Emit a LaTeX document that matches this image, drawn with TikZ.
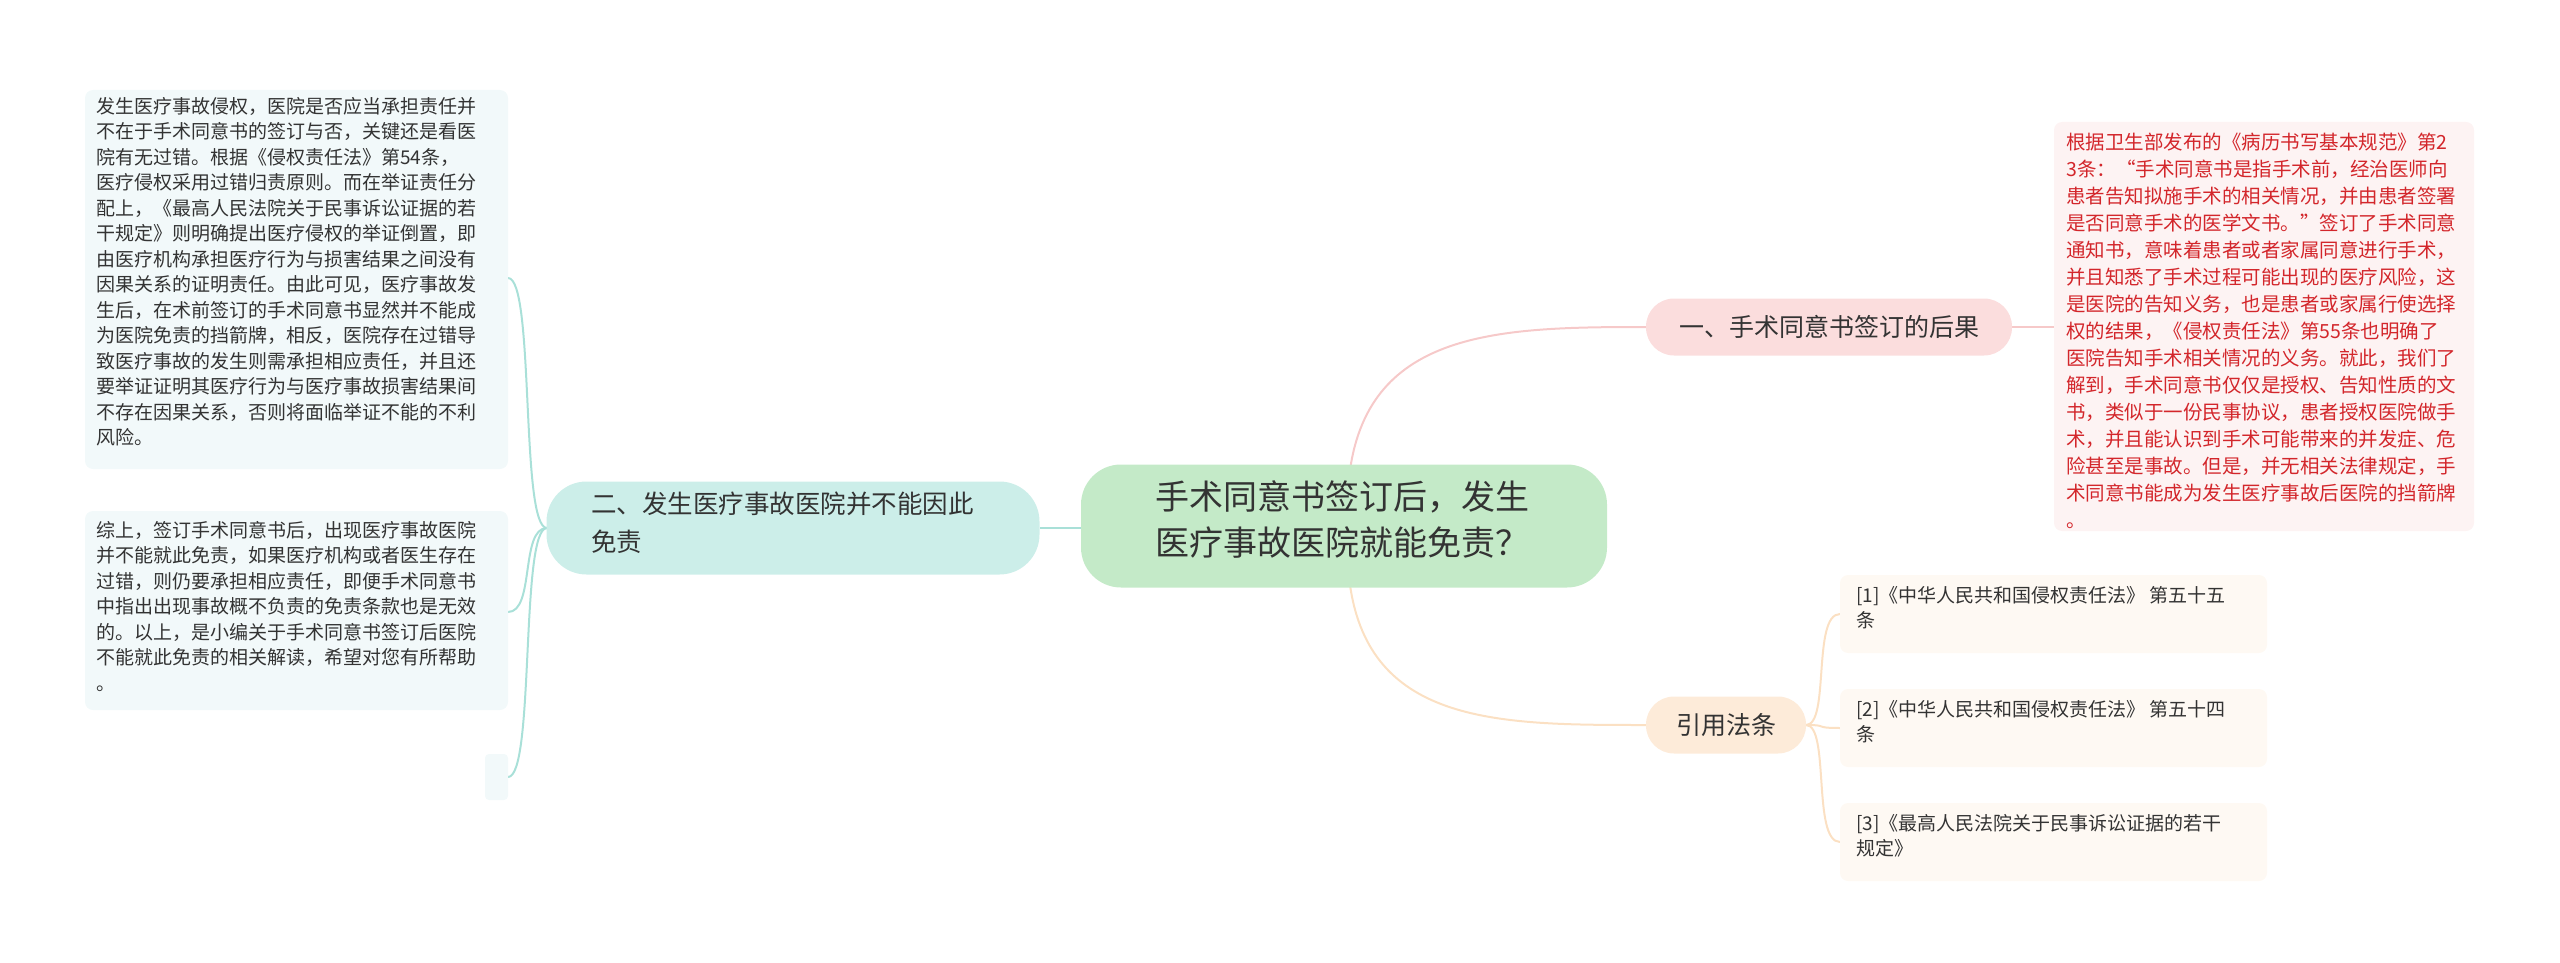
\documentclass[tikz,border=0pt]{standalone}
\usepackage{fontspec}
\setmainfont{Noto Sans CJK SC}
\begin{document}
\begin{tikzpicture}[x=1pt,y=-1pt,
 box/.style={rounded corners=8pt,inner sep=0pt,anchor=north west},
 txt/.style={align=left,anchor=north west,inner sep=0pt,font=\fontsize{19}{25.5}\selectfont},
]
\definecolor{cgreen}{HTML}{C4EAC8}
\definecolor{cpink}{HTML}{FBDDDD}
\definecolor{cpinkbox}{HTML}{FDF3F3}
\definecolor{cred}{HTML}{D3262B}
\definecolor{corange}{HTML}{FDEBD9}
\definecolor{crefbox}{HTML}{FEF9F3}
\definecolor{cteal}{HTML}{CCEEE9}
\definecolor{ctealbox}{HTML}{F2F9FA}
\definecolor{ctealline}{HTML}{A9E0D8}
\definecolor{cpinkline}{HTML}{F6C9C9}
\definecolor{corline}{HTML}{FBE0C3}
\definecolor{ctext}{HTML}{333333}
\useasboundingbox (0,0) rectangle (2560,963);
% connectors
\draw[cpinkline,line width=2pt] (1350,470) .. controls (1370,330) and (1500,327) .. (1646,327);
\draw[corline,line width=2pt] (1350,585) .. controls (1370,725) and (1500,725) .. (1646,725);
\draw[ctealline,line width=2pt] (1081,528) -- (1040,528);
\draw[cpinkline,line width=2pt] (2012,327) -- (2054,327);
\foreach \y in {614,728,842}{
 \draw[corline,line width=2pt] (1806,725) .. controls (1830,725) and (1812,\y) .. (1840,\y);}
\foreach \y in {278,612,777}{
 \draw[ctealline,line width=2pt] (547,528) .. controls (520,528) and (535,\y) .. (508,\y);}
% central
\node[fill=cgreen,rounded corners=40pt,minimum width=526pt,minimum height=123pt,inner sep=0pt] (c) at (1344,526) {};
\node[txt,font=\fontsize{34}{46}\selectfont,text=ctext] (ct) at (1155,480) {手术同意书签订后，发生\\医疗事故医院就能免责？};
% branch1
\node[fill=cpink,rounded corners=28pt,minimum width=366pt,minimum height=57pt] (b1) at (1829,327) {};
\node[font=\fontsize{25}{30}\selectfont,text=ctext] (b1t) at (1829,327) {一、手术同意书签订的后果};
\fill[cpinkbox,rounded corners=8pt] (2054,122) rectangle (2474,531);
\node[txt,text=cred,font=\fontsize{19.5}{27}\selectfont] (rt) at (2066,133) {根据卫生部发布的《病历书写基本规范》第2\\3条：“手术同意书是指手术前，经治医师向\\患者告知拟施手术的相关情况，并由患者签署\\是否同意手术的医学文书。”签订了手术同意\\通知书，意味着患者或者家属同意进行手术，\\并且知悉了手术过程可能出现的医疗风险，这\\是医院的告知义务，也是患者或家属行使选择\\权的结果，《侵权责任法》第55条也明确了\\医院告知手术相关情况的义务。就此，我们了\\解到，手术同意书仅仅是授权、告知性质的文\\书，类似于一份民事协议，患者授权医院做手\\术，并且能认识到手术可能带来的并发症、危\\险甚至是事故。但是，并无相关法律规定，手\\术同意书能成为发生医疗事故后医院的挡箭牌\\。};
% branch2
\node[fill=corange,rounded corners=28pt,minimum width=160pt,minimum height=57pt] (b2) at (1726,725) {};
\node[font=\fontsize{25}{30}\selectfont,text=ctext] (b2t) at (1726,725) {引用法条};
\foreach \y/\t in {575/{[1]《中华人民共和国侵权责任法》 第五十五\\条},689/{[2]《中华人民共和国侵权责任法》 第五十四\\条},803/{[3]《最高人民法院关于民事诉讼证据的若干\\规定》}}{
 \fill[crefbox,rounded corners=8pt] (1840,\y) rectangle (2267,\y+78);
 \node[txt,text=ctext] at (1856,\y+11) {\t};}
% left branch
\node[fill=cteal,rounded corners=40pt,minimum width=493pt,minimum height=93pt] (l) at (793,528) {};
\node[txt,font=\fontsize{25.5}{38}\selectfont,text=ctext] (lt) at (591,492) {二、发生医疗事故医院并不能因此\\免责};
\fill[ctealbox,rounded corners=8pt] (85,90) rectangle (508,469);
\node[txt,text=ctext] (l1) at (96,97) {发生医疗事故侵权，医院是否应当承担责任并\\不在于手术同意书的签订与否，关键还是看医\\院有无过错。根据《侵权责任法》第54条，\\医疗侵权采用过错归责原则。而在举证责任分\\配上，《最高人民法院关于民事诉讼证据的若\\干规定》则明确提出医疗侵权的举证倒置，即\\由医疗机构承担医疗行为与损害结果之间没有\\因果关系的证明责任。由此可见，医疗事故发\\生后，在术前签订的手术同意书显然并不能成\\为医院免责的挡箭牌，相反，医院存在过错导\\致医疗事故的发生则需承担相应责任，并且还\\要举证证明其医疗行为与医疗事故损害结果间\\不存在因果关系，否则将面临举证不能的不利\\风险。};
\fill[ctealbox,rounded corners=8pt] (85,511) rectangle (508,710);
\node[txt,text=ctext] (l2) at (96,521) {综上，签订手术同意书后，出现医疗事故医院\\并不能就此免责，如果医疗机构或者医生存在\\过错，则仍要承担相应责任，即便手术同意书\\中指出出现事故概不负责的免责条款也是无效\\的。以上，是小编关于手术同意书签订后医院\\不能就此免责的相关解读，希望对您有所帮助\\。};
\fill[ctealbox,rounded corners=4pt] (485,754) rectangle (508,800);
\end{tikzpicture}
\end{document}
